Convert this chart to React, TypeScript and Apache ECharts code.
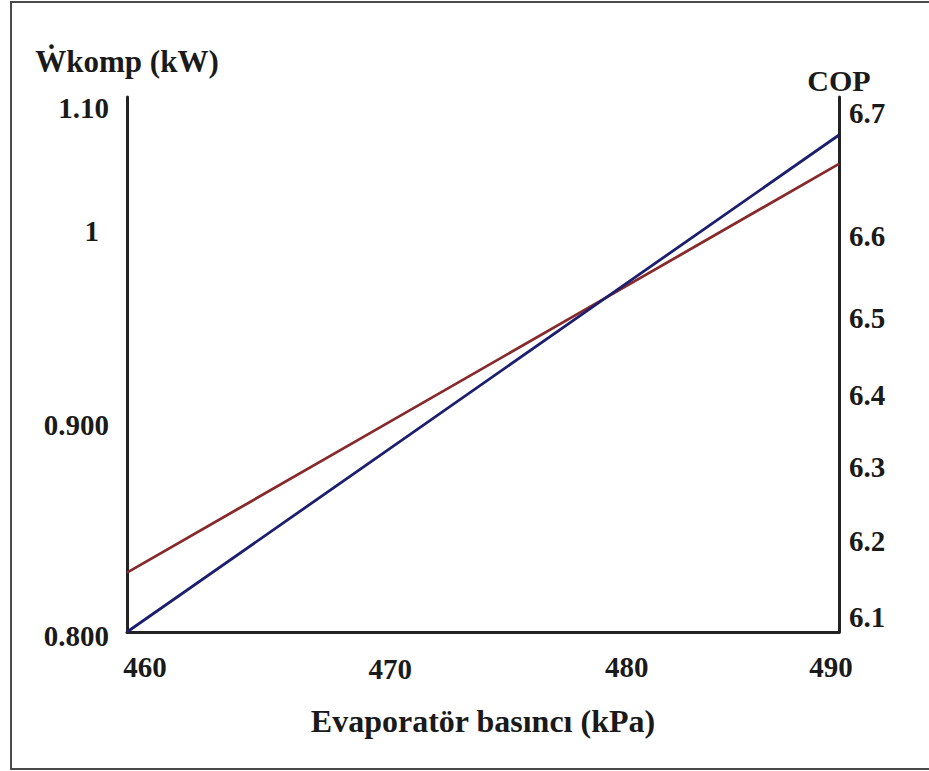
import React, { useEffect, useRef } from "react";
import * as echarts from "echarts";

// ---- data ----
const pressures = [460, 470, 480, 490]; // kPa
const wkompValues = [0.834, 0.912, 0.99, 1.068]; // kW (left axis, red)
const copValues = [6.08, 6.298, 6.516, 6.734]; // COP (right axis, blue)

const xTickValues = [460, 470, 480, 490];
const xTickLabels = ["460", "470", "480", "490"];
const leftTickValues = [0.8, 0.9, 1, 1.1];
const leftTickLabels = ["0.800", "0.900", "1", "1.10"];
const rightTickValues = [6.1, 6.2, 6.3, 6.4, 6.5, 6.6, 6.7];
const rightTickLabels = ["6.1", "6.2", "6.3", "6.4", "6.5", "6.6", "6.7"];

// ---- styles ----
const FONT = "Liberation Serif";
const TICK_SIZE = 29;
const base = { fontFamily: FONT, fontWeight: "bold", fontSize: TICK_SIZE, color: "#1a1a1a" };
const xPads = [[0, 0, 0, 36], [2, 0, 0, 52], [0, 0, 14, 50], [0, 16, 0, 0]];
const leftPads = [[8, 0, 0, 0], [0, 0, 64, 0], [0, 10, 104, 0], [0, 0, 0, 0]];
const rightPads = [[0, 0, 0, 0], [0, 0, 0, 0], [4, 0, 0, 0], [12, 0, 0, 0], [10, 0, 0, 0], [0, 0, 2, 0], [0, 0, 96, 0]];

const findIdx = (arr: number[], v: number) => arr.findIndex((t) => Math.abs(t - v) < 1e-6);
const makeRich = (prefix: string, pads: number[][]) => {
  const r: Record<string, any> = {};
  pads.forEach((p, i) => {
    r[prefix + i] = { ...base, padding: p };
  });
  return r;
};

export default function App() {
  const ref = useRef<HTMLDivElement>(null);
  useEffect(() => {
    if (!ref.current) return;
    const chart = echarts.init(ref.current, null, { renderer: "svg" });
    const axisLine = { show: true, onZero: false, lineStyle: { color: "#222", width: 3 } };
    chart.setOption({
      animation: false,
      backgroundColor: "#ffffff",
      textStyle: { fontFamily: FONT },
      grid: { left: 127, right: 90, top: 97, bottom: 139, containLabel: false },
      graphic: [
        {
          type: "rect",
          shape: { x: 11, y: 2, width: 940, height: 767 },
          style: { fill: "none", stroke: "#4a4a4a", lineWidth: 2 },
          silent: true,
        },
      ],
      xAxis: {
        type: "value",
        min: 460,
        max: 490,
        interval: 10,
        name: "Evaporatör basıncı (kPa)",
        nameLocation: "middle",
        nameGap: 73,
        nameTextStyle: { ...base, fontSize: 32 },
        axisLine,
        axisTick: { show: false },
        splitLine: { show: false },
        axisLabel: {
          show: true,
          showMinLabel: true,
          showMaxLabel: true,
          margin: 20,
          ...base,
          formatter: (v: number) => {
            const i = findIdx(xTickValues, v);
            return i < 0 ? "" : `{x${i}|${xTickLabels[i]}}`;
          },
          rich: makeRich("x", xPads),
        },
      },
      yAxis: [
        {
          type: "value",
          position: "left",
          min: 0.8,
          max: 1.1063,
          name: "Ẇkomp (kW)",
          nameLocation: "end",
          nameGap: 20,
          nameTextStyle: { ...base, fontSize: 31 },
          axisLine,
          axisTick: { show: false },
          splitLine: { show: false },
          axisLabel: {
            margin: 18,
            ...base,
            customValues: leftTickValues,
            formatter: (v: number) => {
              const i = findIdx(leftTickValues, v);
              return i < 0 ? "" : `{l${i}|${leftTickLabels[i]}}`;
            },
            rich: makeRich("l", leftPads),
          },
        },
        {
          type: "value",
          position: "right",
          min: 6.08,
          max: 6.784,
          name: "COP",
          nameLocation: "end",
          nameGap: 2,
          nameTextStyle: { ...base, fontSize: 30 },
          axisLine,
          axisTick: { show: false },
          splitLine: { show: false },
          axisLabel: {
            margin: 10,
            ...base,
            customValues: rightTickValues,
            formatter: (v: number) => {
              const i = findIdx(rightTickValues, v);
              return i < 0 ? "" : `{r${i}|${rightTickLabels[i]}}`;
            },
            rich: makeRich("r", rightPads),
          },
        },
      ],
      series: [
        {
          name: "Ẇkomp",
          type: "line",
          yAxisIndex: 0,
          data: pressures.map((p, i) => [p, wkompValues[i]]),
          showSymbol: false,
          lineStyle: { color: "#862a2c", width: 2.8 },
          itemStyle: { color: "#862a2c" },
        },
        {
          name: "COP",
          type: "line",
          yAxisIndex: 1,
          data: pressures.map((p, i) => [p, copValues[i]]),
          showSymbol: false,
          lineStyle: { color: "#1c1f6e", width: 2.8 },
          itemStyle: { color: "#1c1f6e" },
        },
      ],
    });
    return () => chart.dispose();
  }, []);
  return (
    <div
      ref={ref}
      style={{ position: "fixed", left: 0, top: 0, width: 929, height: 771, background: "#fff" }}
    />
  );
}
